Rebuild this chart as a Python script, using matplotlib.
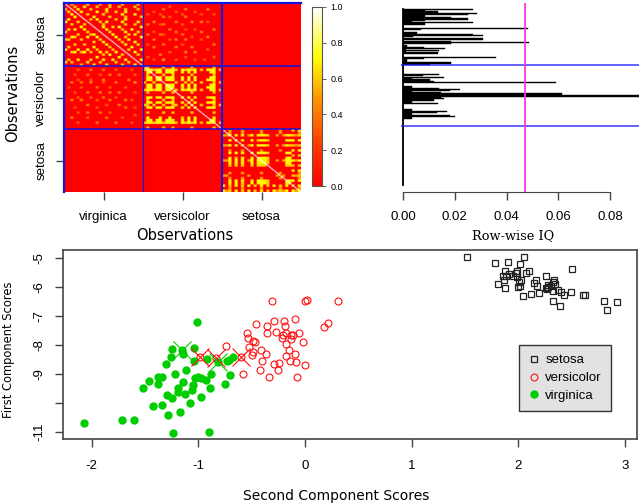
import matplotlib
matplotlib.use('Agg')
import matplotlib.pyplot as plt
from matplotlib.colors import LinearSegmentedColormap
import numpy as np

plt.rcParams['font.family'] = ['Liberation Sans', 'DejaVu Sans']

W, H = 640, 504

groups = ['virginica', 'versicolor', 'setosa']
row_groups = ['setosa', 'versicolor', 'setosa']

# similarity blocks, read by eye on a 25x25 grid (digit = value*10)
block_a = ["00600 00700 06006 00070 00070",
           "00060 07000 60006 00600 00600",
           "00007 00060 00070 00006 00060",
           "00000 70000 70060 06007 00000",
           "00000 00600 00600 00070 00700",
           "00000 00007 00006 00006 00006",
           "00000 00060 70000 06007 00000",
           "00000 00000 06070 00070 00070",
           "00000 00000 00600 00006 00600",
           "00000 00000 00700 60700 00007",
           "00000 00000 00070 00060 07000",
           "00000 00000 00006 00007 00060",
           "00000 00000 00000 70000 60700",
           "00000 00000 00000 07006 00007",
           "00000 00000 00000 00600 70000",
           "00000 00000 00000 00060 00700",
           "00000 00000 00000 00007 00060",
           "00000 00000 00000 00000 07000",
           "00000 00000 00000 00000 60007",
           "00000 00000 00000 00000 00700",
           "00000 00000 00000 00000 00060",
           "00000 00000 00000 00000 00000",
           "00000 00000 00000 00000 00007",
           "00000 00000 00000 00000 00000",
           "00000 00000 00000 00000 00000"]

b_p = "07707 70770 00707 07000 07700"
b_q = "07000 70070 00607 07000 00700"
b_s = "06000 06006 00000 60000 00600"
b_r = "00000 00000 00000 00000 00000"
block_b = [b_s, b_p, b_p, b_s, b_p, b_q, b_r, b_p, b_q, b_p, b_s, b_r, b_p,
           b_s, b_q, b_s, b_p, b_r, b_s, b_r, b_q, b_p, b_s, b_r, b_s]

c_p = "00706 07007 06776 00000 77000"
c_q = "00600 06006 00660 00000 66000"
c_s = "00500 05000 00500 00050 00005"
c_t = "70607 06070 60706 07060 70607"
c_r = "00000 00000 00000 00000 00000"
block_c = [c_s, c_s, c_p, c_r, c_p, c_r, c_q, c_r, c_s, c_p, c_r, c_p, c_p,
           c_p, c_q, c_r, c_r, c_s, c_r, c_s, c_p, c_q, c_t, c_s, c_t]

# rows of versicolor against columns of virginica
block_d = ["00000 00000 00000 00000 00000",
           "00003 00040 00400 03000 03000",
           "00000 00000 00000 00000 00000",
           "00030 00400 03004 00400 00300",
           "00000 00000 00000 00000 00000",
           "00003 00030 00400 00000 40000",
           "00400 40040 00300 04000 00500",
           "00000 00000 00000 00000 00000",
           "03000 30000 40003 00003 00000",
           "00000 00000 00000 00000 00000",
           "00030 00400 04004 00400 00300",
           "00000 00000 00000 00000 00000",
           "00003 00030 00400 03000 00000",
           "00400 40000 30004 00004 03000",
           "00000 00000 00000 00000 00000",
           "00000 00400 00030 00400 00000",
           "00030 00000 30000 00004 00300",
           "00000 00000 00000 00000 00000",
           "00003 00400 04003 00000 00000",
           "00000 00000 00000 00000 00300",
           "00400 00300 00040 00030 00000",
           "00000 00000 00000 00000 00000",
           "00003 00000 40000 04000 03000",
           "00000 00000 00000 00000 00000",
           "00000 00000 00000 00000 00000"]

bar_top = [.0272, .0085, .0135, .0285, .0252, .0085, .0085, .0185, .0252, .0085,
           .0035, .0272, .0085, .0085, .0, .0, .0482, .007, .0, .0,
           .0055, .0272, .031, .004, .0, .031, .0, .0185, .0485, .0185,
           .0, .0015, .008, .0162, .0012, .0138, .001, .0136, .0, .0,
           .0, .0358, .008, .0015, .0015, .0185, .0185, .0105]
bar_mid = [.0, .0, .0, .0, .0, .0, .0, .0138, .0078, .0,
           .016, .0035, .0105, .012, .059, .0, .0, .0, .0035, .0138,
           .0222, .018, .0035, .0145, .0612, .0925, .0925, .0145, .016, .012,
           .0035, .0035, .0137, .0, .0, .0, .0, .0035, .0035, .017,
           .013, .0035, .018, .02, .0035, .0035, .0, .0, .0, .0, .0, .0]
bar_low = [.0] * 50
iq_cut = 0.047

setosa_x = [1.516, 2.053, 1.778, 1.903, 2.013, 2.503, 1.875, 1.991, 2.097, 2.075,
            1.909, 1.975, 1.859, 1.881, 1.953, 1.984, 1.866, 2.022, 2.256, 2.166,
            2.338, 2.322, 1.813, 2.15, 2.178, 2.016, 1.997, 2.275, 2.259, 2.266,
            2.303, 2.34, 1.878, 2.328, 2.372, 2.403, 2.428, 2.491, 2.197, 2.122,
            2.047, 2.609, 2.625, 2.328, 2.391, 2.803, 2.922, 2.828, 2.281, 2.003]
setosa_y = [-4.98, -4.95, -5.17, -5.15, -5.22, -5.38, -5.44, -5.44, -5.45, -5.53,
            -5.54, -5.52, -5.61, -5.61, -5.62, -5.66, -5.75, -5.75, -5.63, -5.77,
            -5.77, -5.84, -5.91, -5.86, -5.95, -5.95, -6.01, -5.93, -6.02, -6.08,
            -5.95, -5.91, -6.05, -6.14, -6.11, -6.18, -6.28, -6.17, -6.2, -6.25,
            -6.32, -6.29, -6.26, -6.48, -6.66, -6.49, -6.53, -6.8, -6.0, -5.82]
versi_x = [-.31, -.003, .02, .31, -.09, -.29, -.197, -.4625, -.353, -.184,
           .216, .178, -.547, -.356, -.272, -.18, -.053, -.206, -.219, -.128,
           -.116, -.128, -.534, -.4875, -.472, -.019, -.178, -.744, -.522, -.416,
           -.4875, -.497, -.369, -.15, -.175, -.09, -.984, -.834, -.6, -.4,
           -.14, -.084, -.29, -.247, 0, -.25, -.42, -.584, -.334, -.075]
versi_y = [-6.47, -6.48, -6.45, -6.49, -7.1, -7.16, -7.17, -7.28, -7.33, -7.33,
           -7.23, -7.38, -7.57, -7.6, -7.56, -7.6, -7.59, -7.67, -7.75, -7.64,
           -7.64, -7.78, -7.76, -7.86, -7.91, -7.91, -7.97, -8.03, -8.07, -8.16,
           -8.24, -8.33, -8.3, -8.18, -8.37, -8.32, -8.4, -8.44, -8.41, -8.55,
           -8.56, -8.57, -8.66, -8.62, -8.69, -8.86, -8.86, -9.01, -9.11, -9.1]
virgi_x = [-1.016, -1.244, -1.04, -1.15, -1.14, -1.26, -1.3, -1.04, -.915, -.815,
           -.715, -.73, -.675, -1.115, -1.215, -.885, -.706, -1.38, -1.344, -1.46,
           -1.38, -1.52, -1.034, -1.0, -.975, -.93, -1.144, -1.047, -1.056, -1.194,
           -1.19, -.894, -.75, -1.29, -1.247, -1.122, -.975, -1.078, -1.344, -1.425,
           -1.172, -1.284, -2.07, -1.716, -1.6, -1.2375, -.903]
virgi_y = [-7.22, -8.13, -8.11, -8.17, -8.31, -8.43, -8.67, -8.56, -8.48, -8.59,
           -8.51, -8.55, -8.4, -8.86, -9.0, -9.01, -9.05, -9.1, -9.09, -9.24,
           -9.36, -9.47, -9.14, -9.09, -9.13, -9.21, -9.29, -9.39, -9.54, -9.47,
           -9.61, -9.47, -9.36, -9.72, -9.84, -9.7, -9.78, -9.99, -10.07, -10.1,
           -10.31, -10.43, -10.69, -10.6, -10.57, -11.02, -10.99]
cross_versi_x = [-.984, -.834, -.6]
cross_versi_y = [-8.4, -8.44, -8.41]
cross_virgi_x = [-1.15, -.815]
cross_virgi_y = [-8.17, -8.59]


def box(left, top, right, bottom):
    return fig.add_axes([left / W, 1 - bottom / H, (right - left) / W, (bottom - top) / H])


def grid(rows):
    return np.array([[int(c) / 10 for c in r.replace(' ', '')] for r in rows])


def sym(rows):
    g = grid(rows)
    return np.maximum(g, g.T)


fig = plt.figure(figsize=(W / 100, H / 100), dpi=100)

# HEATMAP
a, b, c = sym(block_a), sym(block_b), sym(block_c)
d = grid(block_d)
zero = np.zeros((25, 25))
mat = np.block([[a, d.T, zero], [d, b, zero], [zero, zero, c]])
mat = np.kron(mat, np.ones((2, 2)))
np.fill_diagonal(mat, 1.0)

heat = LinearSegmentedColormap.from_list(
    'heat', [(0, '#ff0000'), (0.25, '#ff4000'), (0.5, '#ff9a00'), (0.72, '#ffff00'), (1, '#ffffff')])

ax = box(64, 3, 301, 192)
im = ax.imshow(mat, cmap=heat, vmin=0, vmax=1, aspect='auto', interpolation='bilinear',
               extent=[0, 150, 150, 0])
for p, lw in zip([50, 100], [0.9, 1.5]):
    ax.axvline(p, color='#1414e0', lw=lw)
ax.axhline(50, color='#1414e0', lw=1.1)
ax.axhline(100, color='#1414e0', lw=1.1)
ax.set_xticks([25, 75, 125])
ax.set_xticklabels(groups, fontsize=9.5)
ax.set_yticks([25, 75, 125])
ax.set_yticklabels(row_groups, fontsize=9.5, rotation=90, va='center')
ax.tick_params(axis='x', length=6, width=1, color='#444444', pad=8)
ax.tick_params(axis='y', length=6, width=1, color='#444444', pad=6)
for s in ['right', 'bottom']:
    ax.spines[s].set_visible(False)
for s in ['left', 'top']:
    ax.spines[s].set_color('#1414e0')
    ax.spines[s].set_linewidth(1.6)

cax = box(312, 7, 322, 186)
cb = fig.colorbar(im, cax=cax, ticks=[0, .2, .4, .6, .8, 1])
cb.ax.tick_params(labelsize=6.5, length=3, width=.6, color='#444444', pad=3)
cb.ax.set_yticklabels(['0.0', '0.2', '0.4', '0.6', '0.8', '1.0'])
cb.outline.set_edgecolor('#555555')
cb.outline.set_linewidth(.8)

fig.text(13 / W, 1 - 93 / H, 'Observations', rotation=90, ha='center', va='center',
         fontsize=10.5, family='DejaVu Sans')
fig.text(185 / W, 1 - 236 / H, 'Observations', ha='center', va='center',
         fontsize=10.5, family='DejaVu Sans')

# BARS
iq = bar_top + bar_mid + bar_low
row_h = 176 / 150
ax2 = box(401, 3, 639, 192)
ax2.barh(np.arange(len(iq)), iq, height=1.0, color='black', edgecolor='black', linewidth=.3)
ax2.set_xlim(-2 / 2590, 236 / 2590)
ax2.set_ylim((192 - 9.6) / row_h, -(9.6 - 3) / row_h)
ax2.plot([0, 0], [-.5, 149.5], color='black', lw=1.3)
ax2.axhline(len(bar_top) - .5, color='#2020ff', alpha=.7, lw=1.4)
ax2.axhline(len(bar_top) + len(bar_mid) - .5, color='#2020ff', alpha=.7, lw=1.4)
ax2.axvline(iq_cut, color='#ff33ee', lw=1.3)
ax2.set_xticks([0, .02, .04, .06, .08])
ax2.set_xticklabels(['0.00', '0.02', '0.04', '0.06', '0.08'], fontsize=9.5)
ax2.set_yticks([])
ax2.tick_params(axis='x', length=6, width=1, color='#444444', pad=8)
for s in ['top', 'right', 'left']:
    ax2.spines[s].set_visible(False)
ax2.spines['bottom'].set_bounds(0, .08)
ax2.spines['bottom'].set_color('#444444')
fig.text(513 / W, 1 - 236 / H, 'Row-wise IQ', ha='center', va='center', fontsize=9.3,
         family='DejaVu Serif')

# SCORES
ax3 = box(63, 250, 637, 439)
ax3.plot(setosa_x, setosa_y, 's', mfc='none', mec='#222222', mew=.9, ms=4.6, label='setosa')
ax3.plot(versi_x, versi_y, 'o', mfc='none', mec='#ff1010', mew=.8, ms=5, label='versicolor')
ax3.plot(virgi_x, virgi_y, 'o', color='#00cd00', mec='#00cd00', ms=5, label='virginica')
ax3.plot(cross_versi_x, cross_versi_y, 'x', color='#ff1010', ms=13, mew=.8)
ax3.plot(cross_virgi_x, cross_virgi_y, 'x', color='#00cd00', ms=13, mew=.8)
ax3.set_xlim((63 - 305) / 106.7, (637 - 305) / 106.7)
ax3.set_ylim(-5 - (439 - 258) / 29, -5 + (258 - 250) / 29)
ax3.set_xticks([-2, -1, 0, 1, 2, 3])
ax3.set_xticklabels(['-2', '-1', '0', '1', '2', '3'], fontsize=9.5)
ax3.set_yticks([-5, -6, -7, -8, -9, -10, -11])
ax3.set_yticklabels(['-5', '-6', '-7', '-8', '-9', '', '-11'], fontsize=9.5, rotation=90, va='center')
ax3.tick_params(axis='x', length=6, width=1, color='#444444', pad=9)
ax3.tick_params(axis='y', length=6, width=1, color='#444444', pad=7)
for s in ax3.spines.values():
    s.set_color('#444444')
    s.set_linewidth(1.2)
leg = ax3.legend(loc='upper left', bbox_to_anchor=(519 / W, 1 - 345 / H), bbox_transform=fig.transFigure,
                 fontsize=9.5, fancybox=False, framealpha=1, facecolor='#e2e2e2', edgecolor='#333333',
                 borderaxespad=0, handletextpad=.5, handlelength=.8, labelspacing=.42,
                 borderpad=.7)
leg.get_frame().set_linewidth(1)

fig.text(336 / W, 1 - 496 / H, 'Second Component Scores', ha='center', va='center', fontsize=10,
         family='DejaVu Sans')
fig.text(9 / W, 1 - 350 / H, 'First Component Scores', rotation=90, ha='center', va='center',
         fontsize=8.3, family='DejaVu Sans')

fig.savefig('out.png', dpi=100)
